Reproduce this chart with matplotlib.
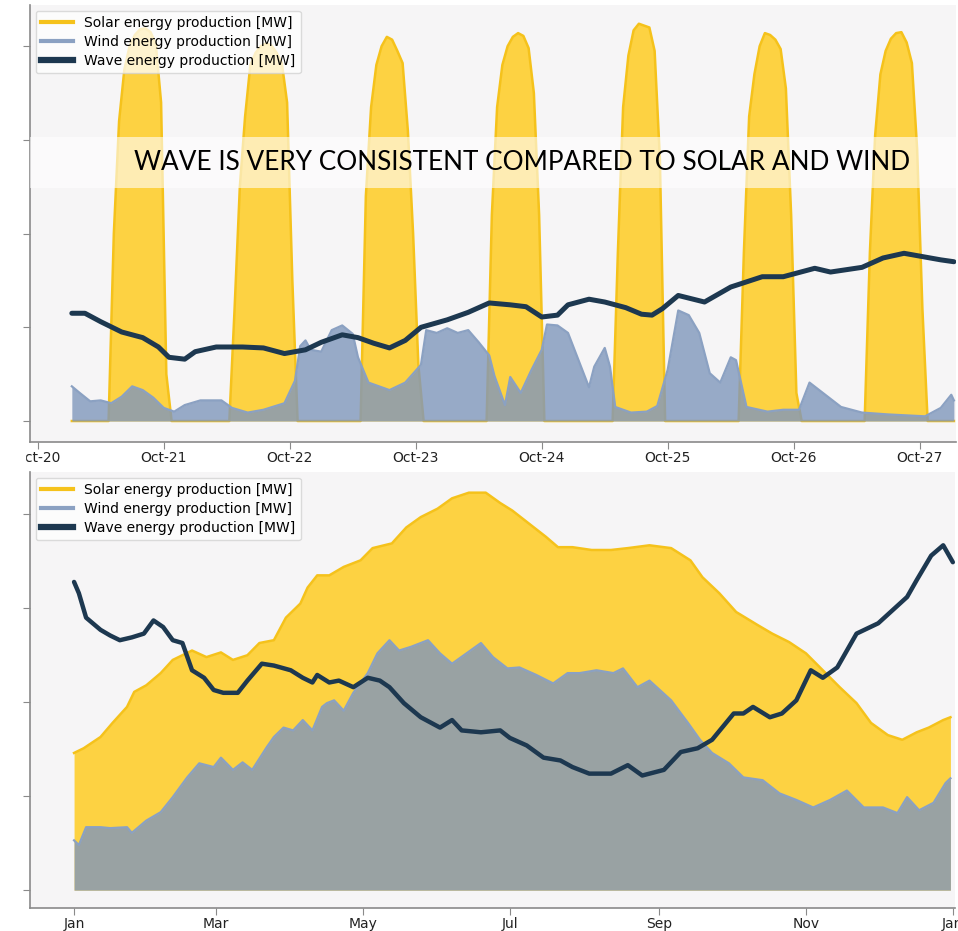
import numpy as np
import matplotlib.pyplot as plt
import matplotlib.dates as mdates
from matplotlib.lines import Line2D
from matplotlib.patches import Rectangle

# ---- one week in October, hours counted from Oct-20 00:00 ----
solar_week_h = [6.5, 13.5, 14.5, 15.5, 16.5, 17.5, 18.5, 19.5, 20.5, 21.5, 22.5, 23.5, 24.5, 25.5,
                36.5, 37.5, 38.5, 39.5, 40.5, 41.5, 42.5, 43.5, 44.5, 45.5, 46.5, 47.5, 48.5, 49.5,
                61.5, 62.5, 63.5, 64.5, 65.5, 66.5, 67.5, 68.5, 69.5, 70.5, 71.5, 72.5, 73.5,
                85.5, 86.5, 87.5, 88.5, 89.5, 90.5, 91.5, 92.5, 93.5, 94.5, 95.5, 96.5,
                109.5, 110.5, 111.5, 112.5, 113.5, 114.5, 115.5, 116.5, 117.5, 118.5, 119.5,
                133.5, 134.5, 135.5, 136.5, 137.5, 138.5, 139.5, 140.5, 141.5, 142.5, 143.5, 144.5, 145.5,
                157.5, 158.5, 159.5, 160.5, 161.5, 162.5, 163.5, 164.5, 165.5, 166.5, 167.5, 168.5, 169.5,
                174.5]
solar_week_mw = [0, 0, 20, 32, 37.5, 40, 41.2, 41.8, 41.9, 41.5, 40.2, 34, 5, 0,
                 0, 12, 25, 32.5, 38, 39.3, 40, 40.3, 40.1, 39.3, 38.2, 34, 15, 0,
                 0, 24, 33.5, 38, 40, 41, 40.7, 39.5, 38.2, 31, 20, 6, 0,
                 0, 22, 33.5, 38, 40, 41, 41.4, 41.1, 39.8, 35, 22, 0,
                 0, 18, 33.5, 39, 41.7, 42.4, 42.2, 42, 39.5, 28, 0,
                 0, 18, 32.5, 37, 40, 41.4, 41.2, 40.7, 39.7, 35.5, 22, 3, 0,
                 0, 18, 30.5, 37, 39.5, 40.8, 41.4, 41.5, 40.4, 38.2, 29, 12, 0,
                 0]

wind_week_h = [6.5, 8, 10, 12, 14, 16, 18, 20, 22, 24, 26, 28, 31, 35, 37, 40, 43, 47,
               49, 50, 51, 52, 54, 56, 58, 60, 61, 63, 67, 70, 73, 74, 76, 78, 80,
               82, 84, 86, 87, 89, 90, 92, 94, 96, 97, 99, 101, 103, 105, 106, 108,
               109, 110, 113, 116, 118, 120, 122, 124, 126, 128, 130, 132, 133, 135,
               139, 142, 145, 147, 150, 153, 157, 162, 169, 172, 174, 174.5]
wind_week_mw = [3.7, 3.0, 2.1, 2.2, 1.9, 2.6, 3.7, 3.3, 2.5, 1.4, 1.0, 1.7, 2.2, 2.2, 1.4, 0.9, 1.2, 1.9,
                4.3, 8.0, 8.6, 7.6, 7.4, 9.7, 10.2, 9.3, 6.8, 4.1, 3.3, 4.1, 6.0, 9.7, 9.4, 9.9, 9.4,
                9.7, 8.4, 7.0, 4.8, 1.7, 4.7, 3.0, 5.4, 7.6, 10.3, 10.2, 9.4, 6.5, 3.6, 5.8, 7.8,
                5.8, 1.5, 0.9, 1.0, 1.6, 5.5, 11.8, 11.3, 9.4, 5.1, 4.1, 6.8, 6.5, 1.5,
                1.0, 1.2, 1.2, 4.1, 2.8, 1.5, 0.9, 0.7, 0.5, 1.4, 2.8, 2.2]

wave_week_h = [6.5, 9, 12, 16, 20, 23, 25, 28, 30, 34, 39, 43, 47, 51, 54, 58, 61, 64,
               67, 70, 73, 78, 82, 86, 90, 93, 96, 99, 101, 105, 108, 112, 115, 117,
               119, 122, 127, 132, 138, 142, 148, 151, 157, 161, 165, 169, 172, 174.5]
wave_week_mw = [11.5, 11.5, 10.6, 9.5, 8.9, 7.9, 6.8, 6.6, 7.4, 7.9, 7.9, 7.8, 7.2, 7.6, 8.4, 9.2, 8.9, 8.3,
                7.8, 8.6, 10.0, 10.8, 11.6, 12.6, 12.4, 12.2, 11.1, 11.3, 12.4, 13.0, 12.7, 12.1, 11.4, 11.3,
                12.0, 13.4, 12.7, 14.3, 15.4, 15.4, 16.3, 15.9, 16.4, 17.4, 17.9, 17.5, 17.2, 17.0]

# ---- whole year, days counted from Jan 1 ----
solar_year_d = [0, 4, 11, 16, 22, 25, 30, 36, 41, 49, 55, 61, 66, 72, 77, 83, 88, 94, 97, 101,
                106, 112, 119, 124, 132, 138, 144, 151, 157, 164, 171, 177, 182, 189, 196, 201,
                207, 215, 223, 230, 239, 248, 256, 261, 268, 275, 284, 290, 297, 304, 311, 318,
                325, 331, 338, 344, 350, 355, 361, 364]
solar_year_mw = [14.6, 15.1, 16.3, 17.8, 19.5, 21.1, 21.8, 23.1, 24.5, 25.5, 24.8, 25.3, 24.5, 25.0,
                 26.3, 26.6, 29.0, 30.5, 32.2, 33.5, 33.5, 34.4, 35.1, 36.4, 36.9, 38.6, 39.7, 40.6,
                 41.7, 42.3, 42.3, 41.2, 40.4, 39.0, 37.6, 36.5, 36.5, 36.2, 36.2, 36.4, 36.7, 36.4,
                 35.1, 33.3, 31.6, 29.6, 28.2, 27.3, 26.4, 25.2, 23.4, 21.6, 19.9, 17.8, 16.5, 16.0,
                 16.8, 17.3, 18.1, 18.4]

wind_year_d = [0, 2, 5, 11, 15, 22, 24, 30, 36, 41, 47, 52, 58, 61, 66, 70, 74, 80, 83, 87, 91,
               95, 99, 103, 105, 108, 112, 116, 122, 126, 131, 135, 140, 147, 152, 157, 163, 169,
               174, 180, 185, 192, 199, 205, 210, 217, 224, 228, 234, 239, 248, 255, 260, 265,
               272, 278, 286, 293, 300, 307, 314, 321, 328, 336, 342, 346, 351, 357, 362, 364]
wind_year_mw = [5.3, 4.8, 6.7, 6.7, 6.6, 6.7, 6.1, 7.4, 8.3, 9.9, 12.0, 13.5, 13.1, 14.1, 12.8, 13.6,
                12.8, 15.2, 16.3, 17.3, 17.0, 18.1, 17.0, 19.5, 19.9, 20.2, 19.1, 21.0, 23.1, 25.2,
                26.6, 25.5, 25.9, 26.6, 25.2, 24.1, 25.2, 26.3, 24.8, 23.6, 23.7, 22.9, 22.0, 23.1,
                23.1, 23.4, 23.1, 23.6, 21.6, 22.3, 20.2, 17.8, 16.0, 14.6, 13.5, 12.0, 11.7, 10.3,
                9.6, 8.8, 9.6, 10.6, 8.8, 8.8, 8.2, 9.9, 8.5, 9.3, 11.4, 11.9]

wave_year_d = [0, 2, 5, 11, 15, 19, 24, 29, 33, 37, 41, 45, 49, 54, 58, 62, 68, 72, 78, 83, 90,
               95, 99, 101, 106, 110, 116, 122, 127, 131, 137, 144, 152, 157, 161, 169, 177, 181,
               188, 195, 202, 207, 214, 223, 230, 236, 245, 252, 259, 265, 274, 278, 282, 289,
               294, 300, 306, 311, 317, 325, 334, 340, 346, 350, 356, 361, 365]
wave_year_mw = [32.8, 31.6, 29.0, 27.7, 27.1, 26.6, 26.9, 27.3, 28.7, 28.0, 26.6, 26.3, 23.4, 22.6,
                21.3, 21.0, 21.0, 22.3, 24.1, 23.9, 23.4, 22.6, 22.1, 22.9, 22.1, 22.3, 21.6, 22.6,
                22.3, 21.6, 19.9, 18.4, 17.3, 18.1, 17.0, 16.8, 17.0, 16.2, 15.4, 14.1, 13.8, 13.1,
                12.4, 12.4, 13.3, 12.2, 12.8, 14.7, 15.1, 16.0, 18.8, 18.8, 19.5, 18.4, 18.8, 20.2,
                23.4, 22.6, 23.7, 27.3, 28.4, 29.8, 31.2, 33.0, 35.6, 36.7, 34.9]

labels = ['Solar energy production [MW]', 'Wind energy production [MW]',
          'Wave energy production [MW]']

SOLAR = '#fdd242'
SOLAR_EDGE = '#f5c21b'
WIND = '#8097bc'
WIND_EDGE = '#8ba1c2'
WAVE = '#1d3850'
BG = '#f6f5f6'

week0 = np.datetime64('2019-10-20T00:00')
year0 = np.datetime64('2019-01-01T00:00')


def hours_to_dt(t0, hours):
    return t0 + (np.asarray(hours, dtype=float) * 60).astype('timedelta64[m]')


def draw(ax, xs, ys, xw, yw, xv, yv, wave_lw):
    ax.set_facecolor(BG)
    ax.fill_between(xs, ys, color=SOLAR, lw=0, zorder=1)
    ax.plot(xs, ys, color=SOLAR_EDGE, lw=1.8, zorder=2)
    ax.fill_between(xw, yw, color=WIND, alpha=0.8, lw=0, zorder=3)
    ax.plot(xw, yw, color=WIND_EDGE, lw=1.6, zorder=3)
    ax.plot(xv, yv, color=WAVE, lw=wave_lw, solid_capstyle='round', zorder=6)
    for s in ['top', 'right']:
        ax.spines[s].set_visible(False)
    for s in ['left', 'bottom']:
        ax.spines[s].set_color('#8a8a8a')
        ax.spines[s].set_linewidth(1.2)
    ax.set_yticks([0, 10, 20, 30, 40])
    ax.tick_params(axis='y', labelleft=False, length=5, color='#8a8a8a')
    ax.tick_params(axis='x', length=5, pad=1.5, color='#8a8a8a', labelsize=10,
                   labelcolor='#222222')
    handles = [Line2D([], [], color=SOLAR_EDGE, lw=3),
               Line2D([], [], color=WIND_EDGE, lw=3),
               Line2D([], [], color=WAVE, lw=4.5)]
    leg = ax.legend(handles, labels, loc='upper left', fontsize=10, handlelength=2.3,
                    labelspacing=0.35, framealpha=0.75, borderaxespad=0.4)
    leg.get_frame().set_edgecolor('#d0d0d0')
    leg.set_zorder(8)


fig = plt.figure(figsize=(9.58, 9.31), dpi=100)
W, H = 958, 931
ax1 = fig.add_axes([30 / W, 1 - 442 / H, 926 / W, 437 / H])
ax2 = fig.add_axes([30 / W, 1 - 908 / H, 925 / W, 436 / H])

# top: one week
draw(ax1, hours_to_dt(week0, solar_week_h), solar_week_mw,
     hours_to_dt(week0, wind_week_h), wind_week_mw,
     hours_to_dt(week0, wave_week_h), wave_week_mw, 3.6)
ax1.set_xlim(hours_to_dt(week0, [-1.47, 174.9]))
ax1.set_ylim(-2.24, 44.4)
ax1.xaxis.set_major_locator(mdates.DayLocator())
ax1.xaxis.set_major_formatter(mdates.DateFormatter('%b-%d'))

ax1.axhspan(24.9, 30.3, color='white', alpha=0.6, lw=0, zorder=7)
ax1.text(0.531, 27.6, 'WAVE IS VERY CONSISTENT COMPARED TO SOLAR AND WIND',
         transform=ax1.get_yaxis_transform(), ha='center', va='center',
         fontsize=18.8, color='black', zorder=9, family=['Lato', 'DejaVu Sans'])

# bottom: whole year
draw(ax2, hours_to_dt(year0, np.array(solar_year_d) * 24), solar_year_mw,
     hours_to_dt(year0, np.array(wind_year_d) * 24), wind_year_mw,
     hours_to_dt(year0, np.array(wave_year_d) * 24), wave_year_mw, 3.2)
ax2.set_xlim(hours_to_dt(year0, [-18.3 * 24, 365.9 * 24]))
ax2.set_ylim(-1.9, 44.5)
ax2.xaxis.set_major_locator(mdates.MonthLocator(bymonth=[1, 3, 5, 7, 9, 11]))
ax2.xaxis.set_major_formatter(mdates.DateFormatter('%b'))

# the top picture was cut on its left edge
fig.add_artist(Rectangle((0, 1 - 470 / H), 25 / W, 28 / H, transform=fig.transFigure,
                         color='white', zorder=20))

fig.savefig('out.png', dpi=100, facecolor='white')
